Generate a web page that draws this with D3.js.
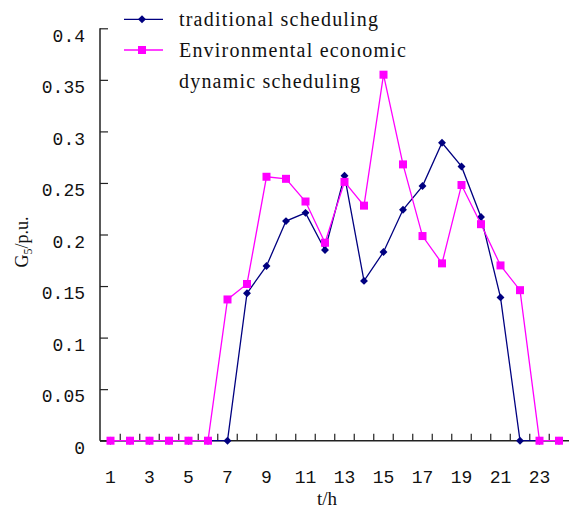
<!DOCTYPE html>
<html>
<head>
<meta charset="utf-8">
<script src="https://cdn.jsdelivr.net/npm/d3@7"></script>
<style>
  body { margin: 0; background: #fff; }
  svg { display: block; }
  .tick text { font-family: "Liberation Mono", monospace; font-size: 18px; fill: #111; }
  .lgd { font-family: "Liberation Serif", serif; font-size: 20px; fill: #111; letter-spacing: 1.2px; }
</style>
</head>
<body>
<div id="chart"></div>
<script>
//hours on the x axis
const hours = d3.range(1, 25);
const xTickLabels = [1, 3, 5, 7, 9, 11, 13, 15, 17, 19, 21, 23];
const yTickValues = [0, 0.05, 0.1, 0.15, 0.2, 0.25, 0.3, 0.35, 0.4];
const yTickLabels = ["0", "0.05", "0.1", "0.15", "0.2", "0.25", "0.3", "0.35", "0.4"];

//G5 output
const traditional = [0, 0, 0, 0, 0, 0, 0, 0.143, 0.1695, 0.213, 0.221, 0.185,
  0.257, 0.155, 0.183, 0.224, 0.247, 0.289, 0.266, 0.217, 0.139, 0, 0, 0];
const environmental = [0, 0, 0, 0, 0, 0, 0.137, 0.152, 0.256, 0.254, 0.232, 0.192,
  0.251, 0.228, 0.355, 0.268, 0.1985, 0.172, 0.248, 0.21, 0.170, 0.146, 0, 0];

const seriesNames = ["traditional scheduling", "Environmental economic", "dynamic scheduling"];
const blue = "#000080";
const pink = "#ff00ff";

const width = 569, height = 511;
const svg = d3.select("#chart").append("svg")
  .attr("width", width)
  .attr("height", height);

const x = d3.scaleBand().domain(hours).range([100.75, 568.75]).padding(0);
const y = d3.scaleLinear().domain([0, 0.4]).range([440.7, 28.3]);
const cx = d => x(d) + x.bandwidth() / 2;

//x axis: labels under the categories, ticks on the boundaries
const xAxis = svg.append("g")
  .attr("transform", `translate(0,${y(0)})`)
  .call(d3.axisBottom(x).tickValues(xTickLabels).tickSize(0).tickPadding(26));
xAxis.select(".domain").attr("stroke", "#222").attr("stroke-width", 1.5)
  .attr("d", `M${x.range()[0] - 0.75},0H${width}`);
xAxis.selectAll(".tick text").attr("dy", "0.88em");

svg.append("g").selectAll("line")
  .data(hours.slice(1))
  .join("line")
  .attr("x1", d => x(d)).attr("x2", d => x(d))
  .attr("y1", y(0)).attr("y2", y(0) - 7)
  .attr("stroke", "#222").attr("stroke-width", 1.2);

//y axis, ticks point inwards
const yAxis = svg.append("g")
  .attr("transform", `translate(100,0)`)
  .call(d3.axisLeft(y).tickValues(yTickValues)
    .tickFormat((d, i) => yTickLabels[i]).tickSize(-8).tickPadding(15));
yAxis.select(".domain").attr("stroke", "#222").attr("stroke-width", 1.5)
  .attr("d", `M0,${y(0.4)}V${y(0)}`);
yAxis.selectAll(".tick line").attr("stroke", "#222").attr("stroke-width", 1.2);
yAxis.selectAll(".tick text").attr("y", 7);

//axis titles
const yTitle = svg.append("text")
  .attr("transform", "translate(28,242) rotate(-90)")
  .attr("text-anchor", "middle")
  .style("font-family", "Liberation Serif, serif")
  .style("font-size", "18px")
  .attr("fill", "#111");
yTitle.append("tspan").text("G");
yTitle.append("tspan").attr("dy", 4).style("font-size", "12px").text("5");
yTitle.append("tspan").attr("dy", -4).text("/p.u.");

svg.append("text")
  .attr("x", 327).attr("y", 505)
  .attr("text-anchor", "middle")
  .style("font-family", "Liberation Serif, serif")
  .style("font-size", "19px")
  .attr("fill", "#111")
  .text("t/h");

//series
const line = d3.line().x((d, i) => cx(hours[i])).y(d => y(d));

svg.append("path").datum(traditional)
  .attr("d", line).attr("fill", "none")
  .attr("stroke", blue).attr("stroke-width", 1.3);
svg.append("g").selectAll("path")
  .data(traditional)
  .join("path")
  .attr("d", d3.symbol(d3.symbolDiamond2, 40))
  .attr("transform", (d, i) => `translate(${cx(hours[i])},${y(d)})`)
  .attr("fill", blue);

svg.append("path").datum(environmental)
  .attr("d", line).attr("fill", "none")
  .attr("stroke", pink).attr("stroke-width", 1.3);
svg.append("g").selectAll("rect")
  .data(environmental)
  .join("rect")
  .attr("x", (d, i) => cx(hours[i]) - 4)
  .attr("y", d => y(d) - 4)
  .attr("width", 8).attr("height", 8)
  .attr("fill", pink);

//legend
const lgd = svg.append("g");
lgd.append("line").attr("x1", 124).attr("x2", 163).attr("y1", 19.3).attr("y2", 19.3)
  .attr("stroke", blue).attr("stroke-width", 1.3);
lgd.append("path").attr("d", d3.symbol(d3.symbolDiamond2, 40))
  .attr("transform", "translate(142,19.3)").attr("fill", blue);
lgd.append("line").attr("x1", 124).attr("x2", 163).attr("y1", 50).attr("y2", 50)
  .attr("stroke", pink).attr("stroke-width", 1.3);
lgd.append("rect").attr("x", 138).attr("y", 46).attr("width", 8).attr("height", 8)
  .attr("fill", pink);

lgd.selectAll("text")
  .data(seriesNames)
  .join("text")
  .attr("class", "lgd")
  .attr("x", 179)
  .attr("y", (d, i) => 26 + i * 31)
  .text(d => d);
</script>
</body>
</html>
